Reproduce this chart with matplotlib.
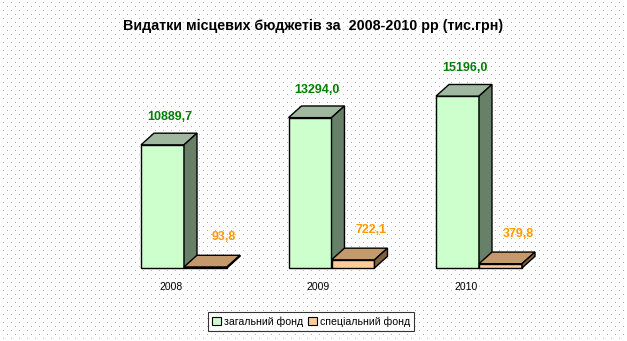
import numpy as np
import matplotlib
matplotlib.use("Agg")
import matplotlib.pyplot as plt
from matplotlib.patches import Polygon, Patch

plt.rcParams['font.family'] = ['Liberation Sans', 'DejaVu Sans']

years = ['2008', '2009', '2010']
general_fund = [10889.7, 13294.0, 15196.0]
special_fund = [93.8, 722.1, 379.8]
general_labels = ['10889,7', '13294,0', '15196,0']
special_labels = ['93,8', '722,1', '379,8']
title = 'Видатки місцевих бюджетів за  2008-2010 рр (тис.грн)'
legend_names = ['загальний фонд', 'спеціальний фонд']

W, H = 627, 341
fig = plt.figure(figsize=(W / 100, H / 100), dpi=100)

# dotted chart-area texture
bg = np.ones((H, W, 3))
for r in range(2, H, 4):
    off = 4 if (r // 4) % 2 else 0
    bg[r, 3 + off::8] = 0.72
fig.figimage(bg, xo=0, yo=0, origin='upper', zorder=-10)

ax = fig.add_axes([0, 0, 1, 1])
ax.set_zorder(1)
ax.patch.set_alpha(0)
ax.set_axis_off()
ax.set_xlim(-1.2475, 3.0034)
ax.set_ylim(-6455, 23696)

bar_w = 0.2915
dx, dy = 0.088, 1030

green = dict(front='#ccffcc', top='#9fb89f', side='#687f68', text='#008000')
orange = dict(front='#ffcc99', top='#c49a6c', side='#7f6040', text='#ff9900')


def bar3d(x0, h, c):
    ax.bar(x0, h, width=bar_w, align='edge', color=c['front'],
           edgecolor='black', linewidth=1.0, zorder=3)
    top = [(x0, h), (x0 + dx, h + dy), (x0 + bar_w + dx, h + dy), (x0 + bar_w, h)]
    side = [(x0 + bar_w, 0), (x0 + bar_w + dx, dy),
            (x0 + bar_w + dx, h + dy), (x0 + bar_w, h)]
    for pts, col in ((top, c['top']), (side, c['side'])):
        ax.add_patch(Polygon(pts, closed=True, facecolor=col,
                             edgecolor='black', linewidth=1.0, zorder=3))


for i in range(len(years)):
    bar3d(i - bar_w, general_fund[i], green)
    bar3d(i, special_fund[i], orange)
    ax.annotate(general_labels[i], (i - bar_w / 2, general_fund[i]),
                xytext=(7, 28), textcoords='offset pixels',
                ha='center', va='center', fontsize=9, fontweight='bold',
                color=green['text'], zorder=5)
    ax.annotate(special_labels[i], (i + bar_w / 2, special_fund[i]),
                xytext=(18, 30), textcoords='offset pixels',
                ha='center', va='center', fontsize=9, fontweight='bold',
                color=orange['text'], zorder=5)
    ax.text(i - 0.088, 0.158, years[i], transform=ax.get_xaxis_transform(),
            ha='center', va='center', fontsize=7.5, color='black')

fig.text(0.5, 1 - 26 / H, title, ha='center', va='center',
         fontsize=10.3, fontweight='bold', color='black')

handles = [Patch(facecolor=green['front'], edgecolor='black', linewidth=0.8),
           Patch(facecolor=orange['front'], edgecolor='black', linewidth=0.8)]
leg = fig.legend(handles, legend_names, loc='center', ncol=2,
                 bbox_to_anchor=(311 / W, 1 - 321.5 / H),
                 fontsize=7.6, frameon=True, fancybox=False,
                 handlelength=0.8, handleheight=0.8, handletextpad=0.3,
                 columnspacing=0.5, borderpad=0.4, borderaxespad=0)
leg.get_frame().set_edgecolor('black')
leg.get_frame().set_linewidth(0.8)
leg.get_frame().set_facecolor('white')
leg.set_zorder(2)

fig.savefig('out.png', dpi=100)
